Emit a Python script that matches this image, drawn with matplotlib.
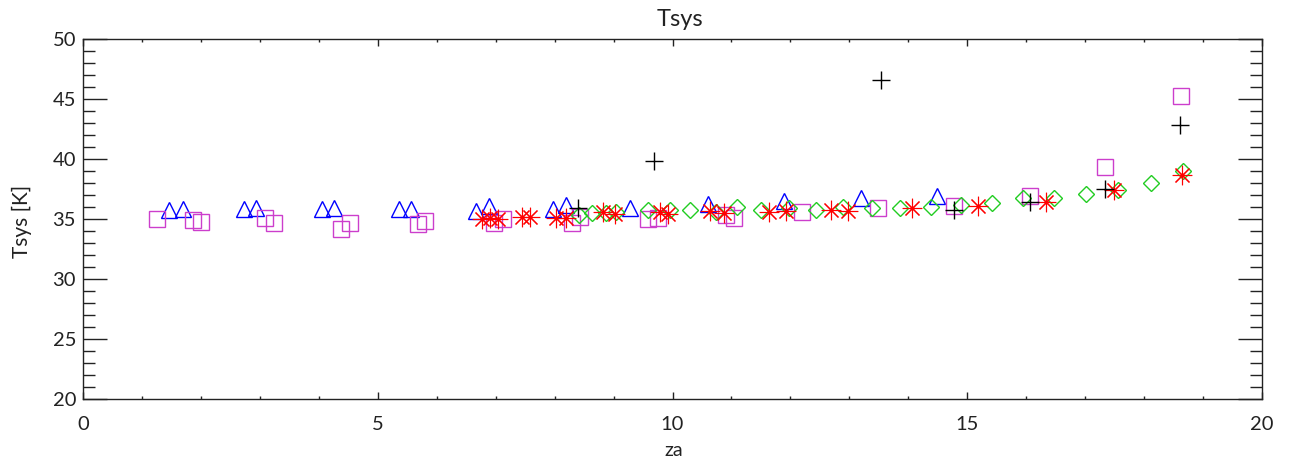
import matplotlib
matplotlib.use("Agg")
import matplotlib.pyplot as plt
from matplotlib.ticker import MultipleLocator

# --- data (za in deg, Tsys in K) ---
tri_za = [1.46, 1.69, 2.73, 2.94, 4.05, 4.25, 5.36, 5.57, 6.66, 6.88,
          7.97, 8.20, 9.28, 10.60, 11.89, 13.19, 14.48]
tri_tsys = [35.78, 35.80, 35.80, 35.90, 35.80, 35.90, 35.80, 35.85, 35.67, 36.10,
            35.83, 36.20, 35.94, 36.28, 36.50, 36.72, 36.94]

sq_za = [1.25, 1.86, 2.00, 3.09, 3.24, 4.38, 4.53, 5.68, 5.81, 6.98, 7.13,
         8.29, 8.43, 9.59, 9.75, 10.90, 11.05, 12.19, 13.49, 14.77, 16.06,
         17.34, 18.63]
sq_tsys = [35.00, 34.94, 34.72, 35.11, 34.67, 34.17, 34.67, 34.60, 34.80, 34.67, 34.97,
           34.67, 35.17, 35.03, 35.11, 35.31, 35.11, 35.58, 35.92, 36.06, 36.89,
           39.33, 45.25]

dia_za = [8.42, 8.64, 8.87, 9.04, 9.58, 9.95, 10.29, 10.74, 11.10, 11.50,
          11.98, 12.43, 12.89, 13.38, 13.86, 14.38, 14.89, 15.42, 15.94, 16.47,
          17.01, 17.56, 18.11, 18.66]
dia_tsys = [35.35, 35.50, 35.50, 35.60, 35.75, 35.75, 35.75, 35.60, 36.03, 35.75,
            35.89, 35.75, 36.03, 35.95, 35.94, 36.03, 36.17, 36.36, 36.72, 36.72,
            37.08, 37.42, 37.97, 39.00]

ast_za = [6.76, 6.90, 7.04, 7.44, 7.58, 8.03, 8.20, 8.82, 9.02, 9.78, 9.92,
          10.63, 10.88, 11.64, 11.92, 12.69, 12.97, 14.07, 15.19, 16.33, 17.49, 18.65]
ast_tsys = [35.00, 35.10, 35.00, 35.20, 35.20, 35.10, 35.10, 35.55, 35.40, 35.55, 35.45,
            35.69, 35.53, 35.55, 35.69, 35.75, 35.69, 35.94, 36.11, 36.44, 37.42, 38.67]

plus_za = [8.39, 9.69, 13.53, 14.78, 16.06, 17.34, 18.61]
plus_tsys = [35.90, 39.83, 46.58, 35.75, 36.44, 37.47, 42.83]

FONT = ["Lato", "DejaVu Sans"]
TXT = "#222222"

plt.rcParams["font.family"] = FONT

fig = plt.figure(figsize=(12.91, 4.66), dpi=100)
ax = fig.add_axes([83 / 1291, 1 - 399 / 466, (1262 - 83) / 1291, (399 - 39) / 466])

mew = 1.0
ax.plot(tri_za, tri_tsys, ls="none", marker="^", ms=11.5, mfc="none",
        mec="#0000ff", mew=mew)
ax.plot(sq_za, sq_tsys, ls="none", marker="s", ms=12.2, mfc="none",
        mec="#cc3ecc", mew=mew)
ax.plot(dia_za, dia_tsys, ls="none", marker="D", ms=8.6, mfc="none",
        mec="#22cc22", mew=mew)
ax.plot(ast_za, ast_tsys, ls="none", marker=(8, 2, 0), ms=14,
        mec="#ff0000", mew=0.8)
ax.plot(plus_za, plus_tsys, ls="none", marker="+", ms=12.5,
        mec="#000000", mew=mew)

ax.set_xlim(0, 20)
ax.set_ylim(20, 50)
ax.xaxis.set_major_locator(MultipleLocator(5))
ax.xaxis.set_minor_locator(MultipleLocator(1))
ax.yaxis.set_major_locator(MultipleLocator(5))
ax.yaxis.set_minor_locator(MultipleLocator(1))

ax.tick_params(axis="both", which="both", direction="in", top=True, right=True,
               color=TXT, width=1.0, labelcolor=TXT, labelsize=14.5)
ax.tick_params(axis="x", which="major", length=5, pad=12)
ax.tick_params(axis="x", which="minor", length=2.5)
ax.tick_params(axis="y", which="major", length=17.3, pad=5)
ax.tick_params(axis="y", which="minor", length=8.6)
for sp in ax.spines.values():
    sp.set_color(TXT)
    sp.set_linewidth(1.0)

fig.text(680 / 1291, 1 - 20 / 466, "Tsys", ha="center", va="center",
         fontsize=17, color=TXT)
fig.text(674 / 1291, 1 - 451 / 466, "za", ha="center", va="center",
         fontsize=14, color=TXT)
fig.text(22 / 1291, 1 - 221 / 466, "Tsys [K]", ha="center", va="center",
         rotation=90, fontsize=15, color=TXT)

fig.savefig("out.png", dpi=100)
